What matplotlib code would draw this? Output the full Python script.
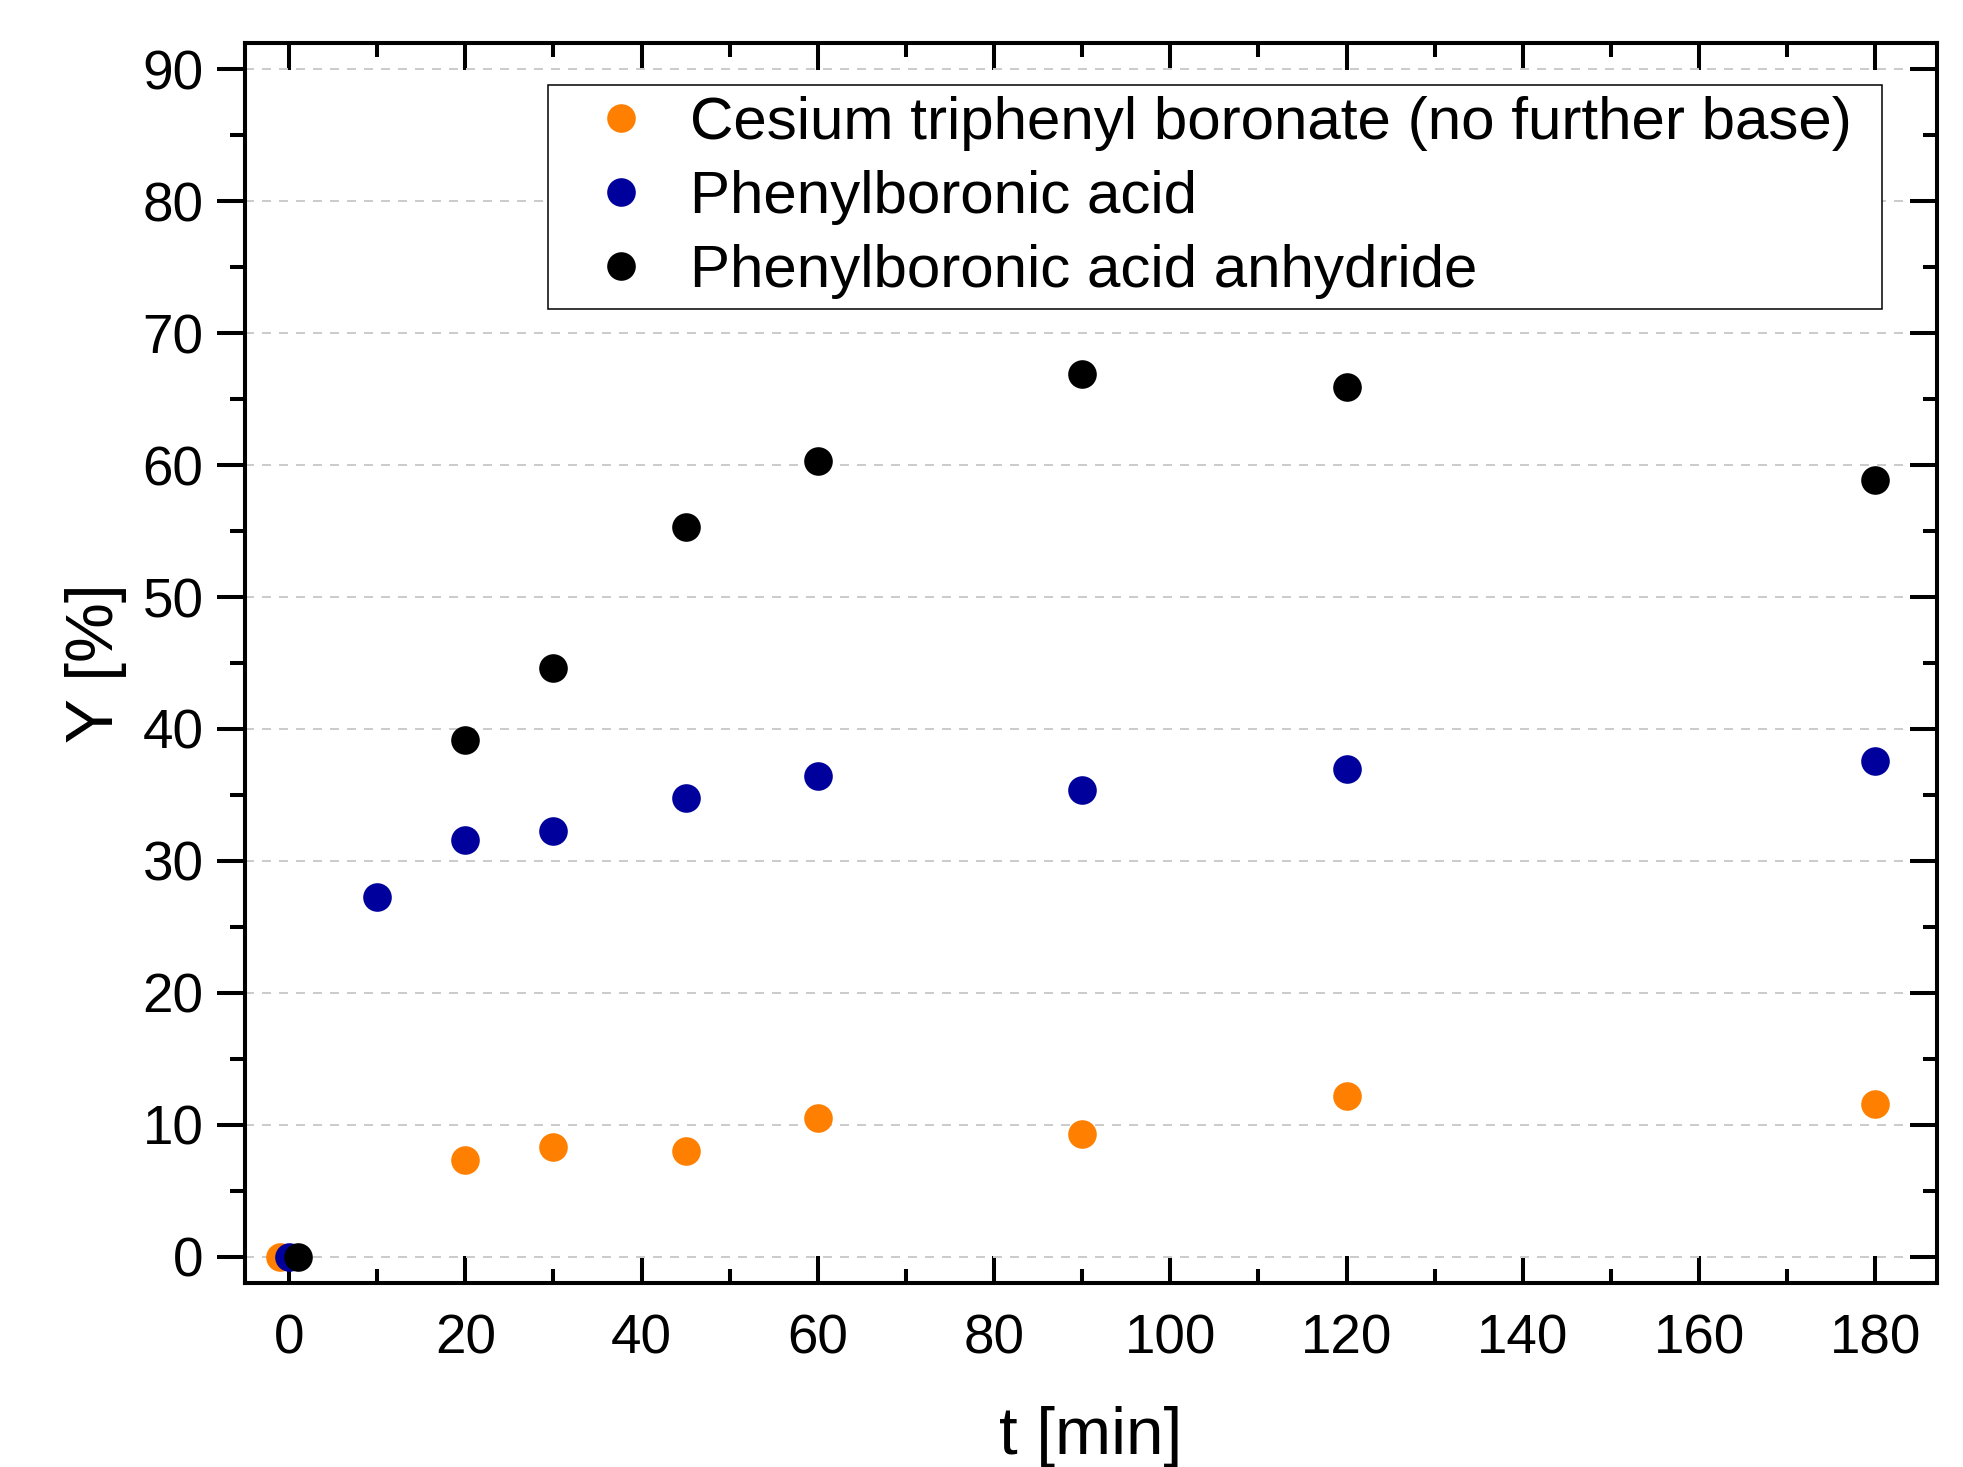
import matplotlib
matplotlib.use("Agg")
import matplotlib.pyplot as plt
from matplotlib.ticker import MultipleLocator

plt.rcParams['font.family'] = ['Liberation Sans', 'DejaVu Sans']

# Data
t_cs = [-1, 20, 30, 45, 60, 90, 120, 180]
y_cs = [0.0, 7.3, 8.3, 8.0, 10.5, 9.3, 12.2, 11.6]

t_pba = [0, 10, 20, 30, 45, 60, 90, 120, 180]
y_pba = [0.0, 27.3, 31.6, 32.3, 34.8, 36.4, 35.4, 37.0, 37.6]

t_anh = [1, 20, 30, 45, 60, 90, 120, 180]
y_anh = [0.0, 39.2, 44.6, 55.3, 60.3, 66.9, 65.9, 58.9]

labels = ["Cesium triphenyl boronate (no further base)",
          "Phenylboronic acid",
          "Phenylboronic acid anhydride"]
colors = ["#FF8000", "#00009C", "#000000"]

fig = plt.figure(figsize=(19.63, 14.67), dpi=100)
pos = [0.1248, 0.1254, 0.8620, 0.8453]

# overlay axes carrying only the outward left ticks (drawn beneath)
axl = fig.add_axes(pos)
ax = fig.add_axes(pos)
ax.patch.set_visible(False)

ms = 20.6
ax.plot(t_cs, y_cs, 'o', ms=ms, color=colors[0], mec='none', label=labels[0], zorder=3)
ax.plot(t_pba, y_pba, 'o', ms=ms, color=colors[1], mec='none', label=labels[1], zorder=4)
ax.plot(t_anh, y_anh, 'o', ms=ms, color=colors[2], mec='none', label=labels[2], zorder=5)

for a in (ax, axl):
    a.set_xlim(-5, 187)
    a.set_ylim(-2, 92)
    a.xaxis.set_major_locator(MultipleLocator(20))
    a.xaxis.set_minor_locator(MultipleLocator(10))
    a.yaxis.set_major_locator(MultipleLocator(10))
    a.yaxis.set_minor_locator(MultipleLocator(5))
    for s in a.spines.values():
        s.set_linewidth(2.9)

ax.grid(axis='y', which='major', color='#cccccc', lw=1.44, linestyle=(0, (4.5, 4)), zorder=0)
ax.set_axisbelow(True)

# main axes: x ticks inward top & bottom; y ticks inward on right, labels on left
ax.tick_params(axis='x', which='both', direction='in', top=True, bottom=True,
               labelsize=39.5, pad=22, width=2.9)
ax.tick_params(axis='x', which='major', length=19.5)
ax.tick_params(axis='x', which='minor', length=10.3)
ax.tick_params(axis='y', which='both', direction='in', left=False, right=True,
               labelleft=True, labelsize=39.5, pad=29.9, width=2.9)
ax.tick_params(axis='y', which='major', length=19.2)
ax.tick_params(axis='y', which='minor', length=10.0)

# helper axes: outward left ticks only
axl.tick_params(axis='x', which='both', bottom=False, top=False, labelbottom=False)
axl.tick_params(axis='y', which='both', direction='out', left=True, right=False,
                labelleft=False, width=2.9)
axl.tick_params(axis='y', which='major', length=20.4)
axl.tick_params(axis='y', which='minor', length=10.8)

ax.set_xlabel("t [min]", fontsize=48.5, va='center')
ax.set_ylabel("Y [%]", fontsize=48.5, va='center')
ax.xaxis.set_label_coords(0.5, -0.124)
ax.yaxis.set_label_coords(-0.088, 0.5)

leg = ax.legend(loc='upper left', mode='expand',
                bbox_to_anchor=(0.1793, 0.7815, 0.7882, 0.1843),
                borderaxespad=0, fontsize=43.3, frameon=True, fancybox=False,
                edgecolor='black', framealpha=1, borderpad=0.17,
                handlelength=2.09, handletextpad=0.09, labelspacing=0.32,
                markerscale=1.0, numpoints=1)
leg.get_frame().set_linewidth(1.1)
leg.set_zorder(10)

fig.savefig("out.png", dpi=100)
